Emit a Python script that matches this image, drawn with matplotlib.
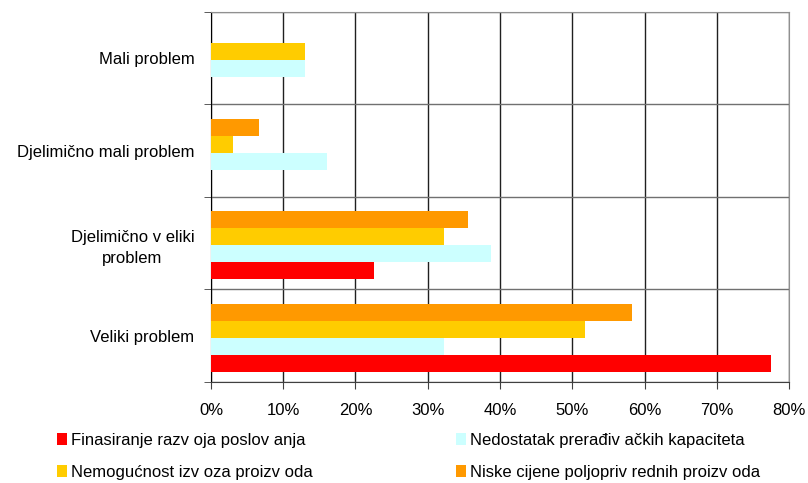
import numpy as np
import matplotlib.pyplot as plt
from matplotlib.patches import Patch

plt.rcParams['font.family'] = ['Liberation Sans', 'DejaVu Sans']

# kategorije od dna prema vrhu
categories = ['Veliki problem', 'Djelimično v eliki\nproblem',
              'Djelimično mali problem', 'Mali problem']

# vrijednosti u %
finansiranje = [77.5, 22.6, 0, 0]
nedostatak = [32.3, 38.8, 16.1, 13.0]
nemogucnost = [51.8, 32.3, 3.1, 13.0]
niske_cijene = [58.3, 35.6, 6.6, 0]

series = [
    ('Finasiranje razv oja poslov anja', finansiranje, '#FF0000'),
    ('Nedostatak prerađiv ačkih kapaciteta', nedostatak, '#CCFFFF'),
    ('Nemogućnost izv oza proizv oda', nemogucnost, '#FFCC00'),
    ('Niske cijene poljopriv rednih proizv oda', niske_cijene, '#FF9900'),
]

xticks = [0, 10, 20, 30, 40, 50, 60, 70, 80]

fig = plt.figure(figsize=(8.08, 4.83), dpi=100)
ax = fig.add_axes([0.2611, 0.2091, 0.9765 - 0.2611, 0.9752 - 0.2091])

y = np.arange(len(categories))
h = 0.184
offsets = [-1.5, -0.5, 0.5, 1.5]
for (name, vals, col), off in zip(series, offsets):
    ax.barh(y + off * h - 0.02, vals, height=h, color=col, linewidth=0, zorder=3)

ax.set_xlim(0, 80)
ax.set_ylim(-0.5, 3.5)
ax.set_xticks(xticks)
ax.set_xticklabels([f'{v}%' for v in xticks], fontsize=12)
ax.set_yticks(y)
ax.set_yticklabels(categories, fontsize=12, multialignment='center', linespacing=1.5)
ax.set_yticks(np.arange(-0.5, 3.6, 1), minor=True)
ax.tick_params(axis='y', which='major', length=0, pad=12)
ax.tick_params(axis='y', which='minor', length=5, color='#404040', direction='out')
ax.tick_params(axis='x', length=5, color='#404040', direction='out', pad=10)

ax.grid(axis='x', color='#202020', linewidth=1.0, zorder=1)
ax.grid(axis='y', which='minor', color='#707070', linewidth=1.0, zorder=1)

ax.spines['left'].set_color('#000000')
ax.spines['bottom'].set_color('#404040')
ax.spines['top'].set_color('#909090')
ax.spines['right'].set_color('#909090')

order = [0, 2, 1, 3]
handles = [Patch(facecolor=series[i][2], edgecolor='none') for i in order]
labels = [series[i][0] for i in order]
fig.legend(handles, labels, ncol=2, loc='upper left',
           bbox_to_anchor=(0.0625, 0.117), frameon=False, fontsize=12,
           handlelength=0.6, handleheight=0.75, handletextpad=0.25,
           columnspacing=8.55, labelspacing=1.0, borderaxespad=0)

fig.savefig('out.png', dpi=100)
